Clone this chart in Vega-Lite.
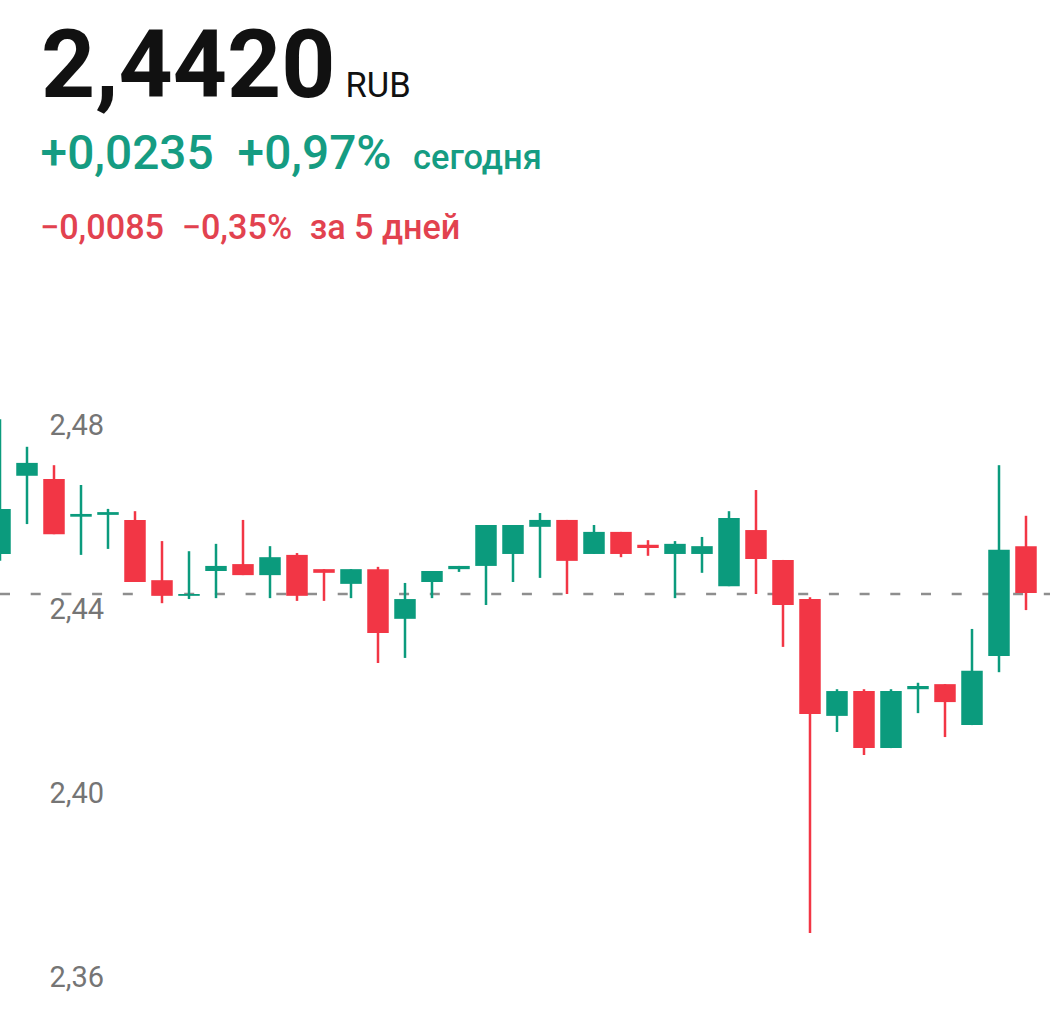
{"$schema":"https://vega.github.io/schema/vega-lite/v6.json","width":1050,"height":1017,"padding":0,"autosize":{"type":"none"},"background":"#ffffff","view":{"stroke":null},"config":{"text":{"font":"Roboto"},"axis":{"labelFont":"Roboto"}},
"encoding":{"x":{"field":"t","type":"quantitative","scale":{"domain":[0,38.889],"nice":false,"zero":false,"padding":0},"axis":null}},
"layer":[
{"data":{"values":[{"last":2.442}]},"mark":{"type":"rule","stroke":"#8e8e8e","strokeWidth":2.5,"strokeDash":[10,20.7]},"encoding":{"x":{"value":0},"x2":{"value":1050},"y":{"field":"last","type":"quantitative","scale":{"domain":[2.35004,2.57113],"nice":false,"zero":false,"padding":0},"axis":{"title":null,"orient":"left","values":[2.36,2.4,2.44,2.48],"domain":false,"ticks":false,"grid":false,"labelAlign":"left","labelPadding":-49,"labelOffset":6,"labelBaseline":"middle","labelFontSize":29,"labelColor":"#757575","labelExpr":"replace(format(datum.value,'.2f'),'.',',')","labelOverlap":false,"labelBound":false,"labelFlush":false}}}},
{"data":{"name":"candles","values":[
{"t":0,"o":2.4507,"h":2.48,"l":2.4492,"c":2.4605,"dir":"up"},
{"t":1,"o":2.4677,"h":2.474,"l":2.4572,"c":2.4705,"dir":"up"},
{"t":2,"o":2.467,"h":2.47,"l":2.455,"c":2.455,"dir":"down"},
{"t":3,"o":2.4588,"h":2.4657,"l":2.4505,"c":2.4594,"dir":"up"},
{"t":4,"o":2.4592,"h":2.4605,"l":2.4518,"c":2.4598,"dir":"up"},
{"t":5,"o":2.4581,"h":2.46,"l":2.4446,"c":2.4446,"dir":"down"},
{"t":6,"o":2.445,"h":2.4535,"l":2.44,"c":2.4416,"dir":"down"},
{"t":7,"o":2.4416,"h":2.4513,"l":2.4409,"c":2.442,"dir":"up"},
{"t":8,"o":2.447,"h":2.4529,"l":2.4411,"c":2.4481,"dir":"up"},
{"t":9,"o":2.4485,"h":2.4581,"l":2.4461,"c":2.4461,"dir":"down"},
{"t":10,"o":2.4461,"h":2.4524,"l":2.4411,"c":2.45,"dir":"up"},
{"t":11,"o":2.4505,"h":2.4509,"l":2.4405,"c":2.4416,"dir":"down"},
{"t":12,"o":2.4474,"h":2.4474,"l":2.4405,"c":2.4466,"dir":"down"},
{"t":13,"o":2.4442,"h":2.4474,"l":2.4411,"c":2.4474,"dir":"up"},
{"t":14,"o":2.4474,"h":2.4479,"l":2.427,"c":2.4335,"dir":"down"},
{"t":15,"o":2.4366,"h":2.4444,"l":2.4281,"c":2.4409,"dir":"up"},
{"t":16,"o":2.4446,"h":2.447,"l":2.4411,"c":2.447,"dir":"up"},
{"t":17,"o":2.4474,"h":2.4481,"l":2.4468,"c":2.4481,"dir":"up"},
{"t":18,"o":2.4481,"h":2.457,"l":2.4396,"c":2.457,"dir":"up"},
{"t":19,"o":2.4507,"h":2.457,"l":2.4446,"c":2.457,"dir":"up"},
{"t":20,"o":2.4566,"h":2.4596,"l":2.4455,"c":2.4581,"dir":"up"},
{"t":21,"o":2.4581,"h":2.4581,"l":2.442,"c":2.4492,"dir":"down"},
{"t":22,"o":2.4507,"h":2.457,"l":2.4507,"c":2.4555,"dir":"up"},
{"t":23,"o":2.4555,"h":2.4555,"l":2.45,"c":2.4507,"dir":"down"},
{"t":24,"o":2.4527,"h":2.4537,"l":2.4503,"c":2.452,"dir":"down"},
{"t":25,"o":2.4507,"h":2.4535,"l":2.4411,"c":2.4529,"dir":"up"},
{"t":26,"o":2.4507,"h":2.4544,"l":2.4466,"c":2.4524,"dir":"up"},
{"t":27,"o":2.4437,"h":2.46,"l":2.4437,"c":2.4585,"dir":"up"},
{"t":28,"o":2.4559,"h":2.4646,"l":2.442,"c":2.4496,"dir":"down"},
{"t":29,"o":2.4494,"h":2.4494,"l":2.4305,"c":2.4396,"dir":"down"},
{"t":30,"o":2.4409,"h":2.4413,"l":2.3683,"c":2.4159,"dir":"down"},
{"t":31,"o":2.4155,"h":2.4213,"l":2.412,"c":2.4209,"dir":"up"},
{"t":32,"o":2.4209,"h":2.4213,"l":2.407,"c":2.4085,"dir":"down"},
{"t":33,"o":2.4085,"h":2.4213,"l":2.4085,"c":2.4209,"dir":"up"},
{"t":34,"o":2.4213,"h":2.4227,"l":2.4161,"c":2.422,"dir":"up"},
{"t":35,"o":2.4224,"h":2.4224,"l":2.4109,"c":2.4185,"dir":"down"},
{"t":36,"o":2.4135,"h":2.4344,"l":2.4135,"c":2.4253,"dir":"up"},
{"t":37,"o":2.4285,"h":2.47,"l":2.425,"c":2.4516,"dir":"up"},
{"t":38,"o":2.4524,"h":2.459,"l":2.4385,"c":2.4422,"dir":"down"}
]},"layer":[
{"mark":{"type":"rule","strokeWidth":2.5,"clip":true},"encoding":{"y":{"field":"l","type":"quantitative"},"y2":{"field":"h"},"color":{"field":"dir","type":"nominal","scale":{"domain":["up","down"],"range":["#0b9b7d","#f23645"]},"legend":null}}},
{"mark":{"type":"bar","size":21.5,"clip":true},"encoding":{"y":{"field":"o","type":"quantitative"},"y2":{"field":"c"},"color":{"field":"dir","type":"nominal","legend":null}}}
]},
{"data":{"values":[{"label":"2,4420","t":1.52,"v":2.55}]},"mark":{"type":"text","align":"left","baseline":"alphabetic","fontSize":94.5,"fontWeight":700,"color":"#111111"},"encoding":{"y":{"field":"v","type":"quantitative"},"text":{"field":"label"}}},
{"data":{"values":[{"label":"RUB","t":12.8,"v":2.55}]},"mark":{"type":"text","align":"left","baseline":"alphabetic","fontSize":34.5,"fontWeight":400,"color":"#111111"},"encoding":{"y":{"field":"v","type":"quantitative"},"text":{"field":"label"}}},
{"data":{"values":[{"label":"+0,0235","t":1.504,"v":2.5344},{"label":"+0,97%","t":8.8,"v":2.5344}]},"mark":{"type":"text","align":"left","baseline":"alphabetic","fontSize":47.8,"fontWeight":500,"color":"#159c82"},"encoding":{"y":{"field":"v","type":"quantitative"},"text":{"field":"label"}}},
{"data":{"values":[{"label":"сегодня","t":15.3,"v":2.5344}]},"mark":{"type":"text","align":"left","baseline":"alphabetic","fontSize":34.4,"fontWeight":500,"color":"#159c82"},"encoding":{"y":{"field":"v","type":"quantitative"},"text":{"field":"label"}}},
{"data":{"values":[{"label":"−0,0085","t":1.48,"v":2.5192},{"label":"−0,35%","t":6.73,"v":2.5192},{"label":"за 5 дней","t":11.47,"v":2.5192}]},"mark":{"type":"text","align":"left","baseline":"alphabetic","fontSize":34.2,"fontWeight":500,"color":"#e2424f"},"encoding":{"y":{"field":"v","type":"quantitative"},"text":{"field":"label"}}}
]}
